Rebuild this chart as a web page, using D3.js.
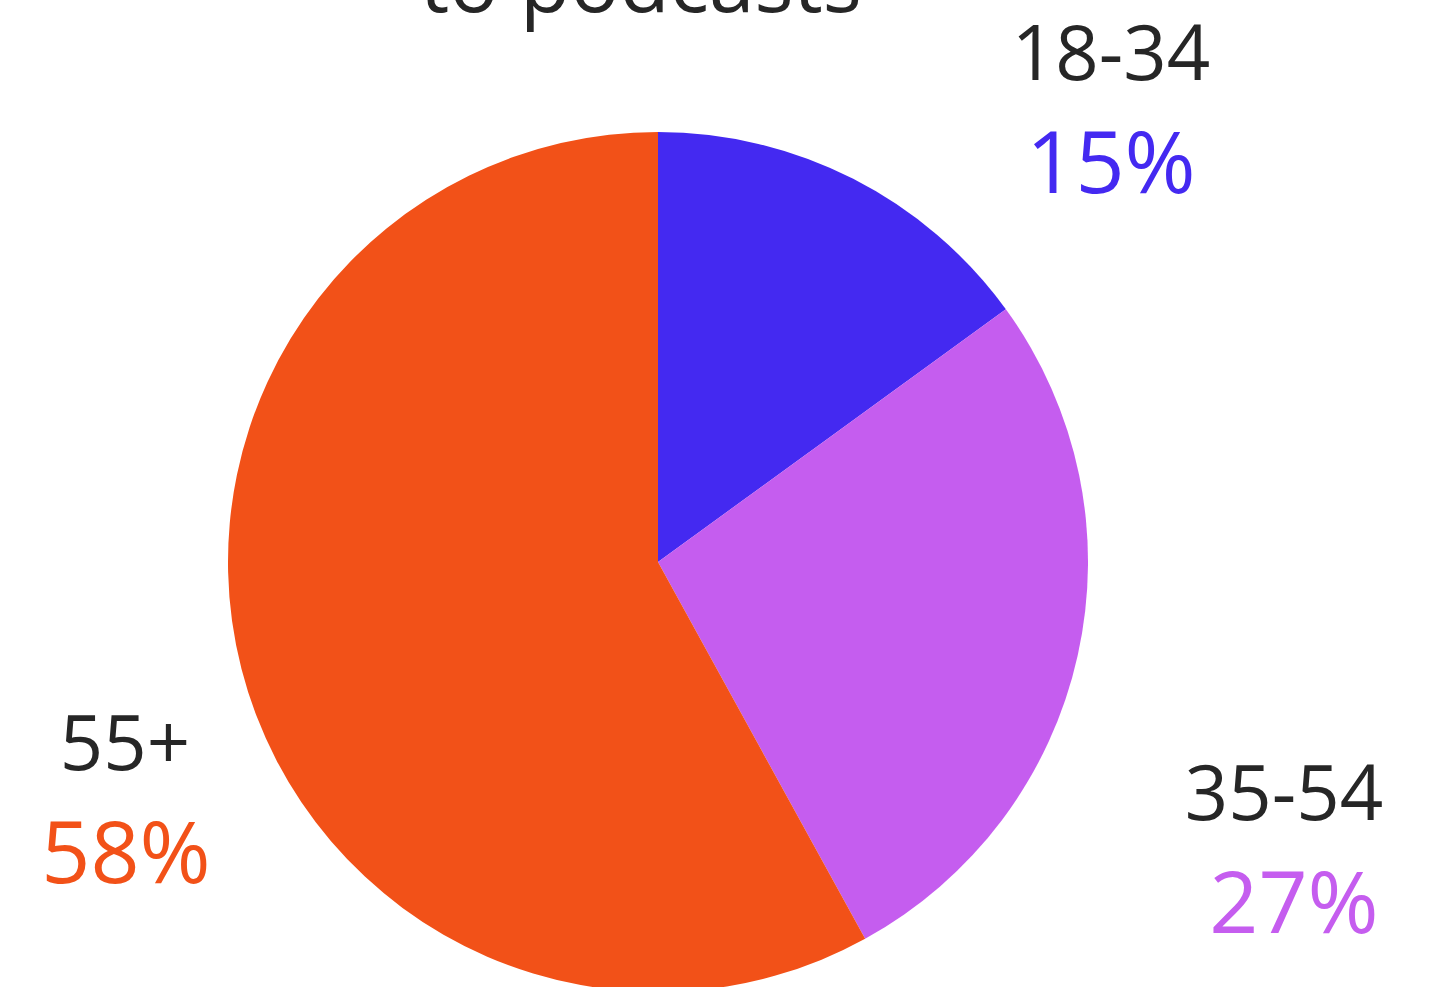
<!DOCTYPE html>
<html>
<head>
<meta charset="utf-8">
<script src="https://cdn.jsdelivr.net/npm/d3@7"></script>
<style>
  html, body { margin: 0; padding: 0; background: #ffffff; overflow: hidden; }
  svg { display: block; }
  text { font-family: "Open Sans", "Noto Sans", sans-serif; }
</style>
</head>
<body>
<svg id="chart" width="1443" height="987"></svg>
<script>
// Podcast listeners by age group
const categories = ["18-34", "35-54", "55+"];
const shares = [15, 27, 58];
const colors = ["#4429F1", "#C55DEF", "#F25118"];
const titleLines = ["to podcasts"];

const svg = d3.select("#chart");
const cx = 658, cy = 562, radius = 430;

const pie = d3.pie().sort(null).value(d => d.value);
const arc = d3.arc().innerRadius(0).outerRadius(radius);

const data = categories.map((c, i) => ({ label: c, value: shares[i], color: colors[i] }));
const arcs = pie(data);

const g = svg.append("g").attr("transform", `translate(${cx},${cy})`);
g.selectAll("path")
  .data(arcs)
  .join("path")
  .attr("d", arc)
  .attr("fill", d => d.data.color);

// Title (last line sits at the top edge)
svg.append("text")
  .attr("x", 641)
  .attr("y", 12)
  .attr("text-anchor", "middle")
  .attr("font-size", 82)
  .attr("fill", "#262626")
  .text(titleLines[titleLines.length - 1]);

// Labels placed outside each slice: category name, then share
const labelPos = [
  { x: 1111, y: 80, px: 1111 },
  { x: 1284, y: 820, px: 1294 },
  { x: 125, y: 770, px: 126 }
];

const labels = svg.append("g");
arcs.forEach((a, i) => {
  const p = labelPos[i];
  labels.append("text")
    .attr("x", p.x).attr("y", p.y)
    .attr("text-anchor", "middle")
    .attr("font-size", 76)
    .attr("fill", "#262626")
    .text(a.data.label);
  labels.append("text")
    .attr("x", p.px).attr("y", p.y + 113)
    .attr("text-anchor", "middle")
    .attr("font-size", 86)
    .attr("fill", a.data.color)
    .text(a.data.value + "%");
});
</script>
</body>
</html>
